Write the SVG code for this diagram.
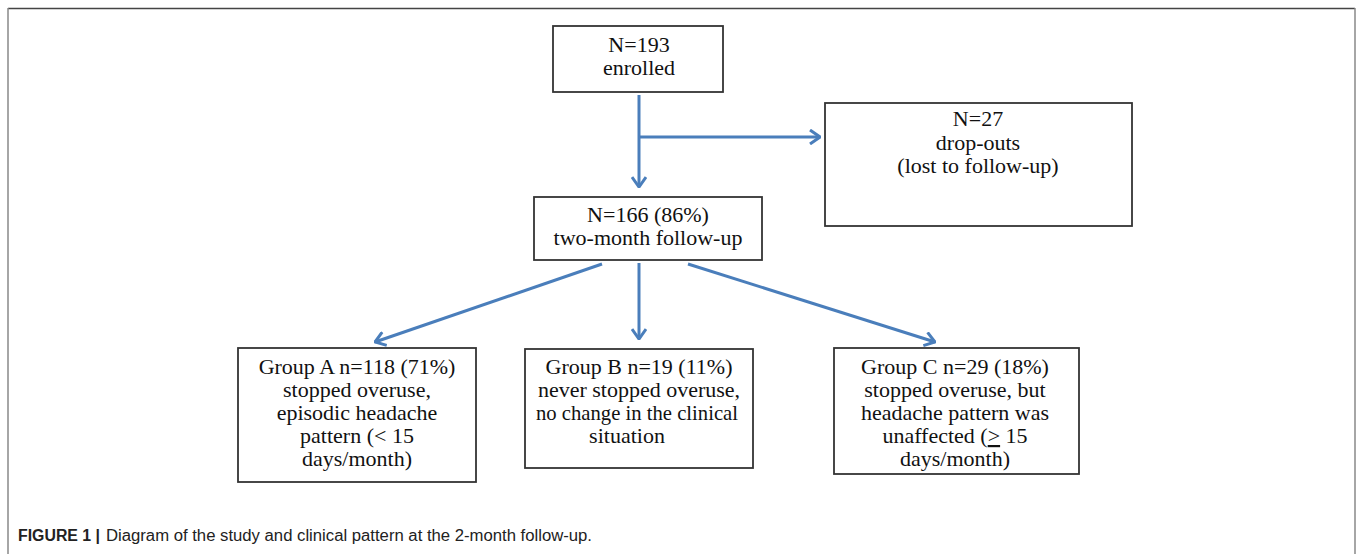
<svg xmlns="http://www.w3.org/2000/svg" width="1357" height="554" viewBox="0 0 1357 554">
<style>
.box{fill:#fff;stroke:#333;stroke-width:1.8}
.t{font-family:"Liberation Serif","Times New Roman",serif;font-size:22px;fill:#111;text-anchor:middle}
.c{fill:none;stroke:#4A7EBB;stroke-width:3;marker-end:url(#ah)}
.cap{font-family:"Liberation Sans",Arial,sans-serif;font-size:16px;fill:#222}
</style>
<defs>
<marker id="ah" viewBox="0 0 12 16" refX="11" refY="8" markerWidth="12" markerHeight="16" markerUnits="userSpaceOnUse" orient="auto">
<path d="M1,1 L11,8 L1,15" fill="none" stroke="#4A7EBB" stroke-width="3" stroke-linejoin="miter"/>
</marker>
</defs>
<rect width="1357" height="554" fill="#fff"/>
<g id="frame">
<line x1="8" y1="8.5" x2="1355" y2="8.5" stroke="#444" stroke-width="1.5"/>
<line x1="8" y1="8" x2="8" y2="554" stroke="#888" stroke-width="1.5"/>
<line x1="1355" y1="8" x2="1355" y2="554" stroke="#888" stroke-width="1.5"/>
</g>
<g id="connectors">
<line class="c" x1="639" y1="95" x2="639" y2="187"/>
<line class="c" x1="639" y1="137" x2="820" y2="137"/>
<line class="c" x1="602" y1="264" x2="375" y2="342"/>
<line class="c" x1="639" y1="263" x2="639" y2="339"/>
<line class="c" x1="688" y1="264" x2="935" y2="342"/>
</g>
<g id="enrolled">
<rect class="box" x="553" y="26" width="170" height="66"/>
<text class="t" x="639" y="52">N=193</text>
<text class="t" x="639" y="75">enrolled</text>
</g>
<g id="dropouts">
<rect class="box" x="825" y="103" width="307" height="123"/>
<text class="t" x="978" y="126">N=27</text>
<text class="t" x="978" y="150">drop-outs</text>
<text class="t" x="978" y="173">(lost to follow-up)</text>
</g>
<g id="followup">
<rect class="box" x="534" y="197" width="228" height="63"/>
<text class="t" x="648" y="222">N=166 (86%)</text>
<text class="t" x="648" y="245">two-month follow-up</text>
</g>
<g id="groupA">
<rect class="box" x="238" y="348" width="238" height="134"/>
<text class="t" x="357" y="374">Group A n=118 (71%)</text>
<text class="t" x="357" y="397">stopped overuse,</text>
<text class="t" x="357" y="420">episodic headache</text>
<text class="t" x="357" y="443">pattern (&lt; 15</text>
<text class="t" x="357" y="466">days/month)</text>
</g>
<g id="groupB">
<rect class="box" x="525" y="349" width="228" height="119"/>
<text class="t" x="639" y="374">Group B n=19 (11%)</text>
<text class="t" x="639" y="397">never stopped overuse,</text>
<text class="t" x="637" y="420" textLength="202" lengthAdjust="spacingAndGlyphs">no change in the clinical</text>
<text class="t" x="627" y="443">situation</text>
</g>
<g id="groupC">
<rect class="box" x="834" y="348" width="245" height="126"/>
<text class="t" x="955" y="374">Group C n=29 (18%)</text>
<text class="t" x="955" y="397">stopped overuse, but</text>
<text class="t" x="955" y="420">headache pattern was</text>
<text class="t" x="955" y="443">unaffected (<tspan text-decoration="underline">&gt;</tspan> 15</text>
<text class="t" x="955" y="466">days/month)</text>
</g>
<g id="caption">
<text class="cap" x="18" y="541"><tspan font-weight="bold" textLength="82" lengthAdjust="spacingAndGlyphs">FIGURE 1 |</tspan><tspan x="106" textLength="486" lengthAdjust="spacingAndGlyphs">Diagram of the study and clinical pattern at the 2-month follow-up.</tspan></text>
</g>
</svg>
